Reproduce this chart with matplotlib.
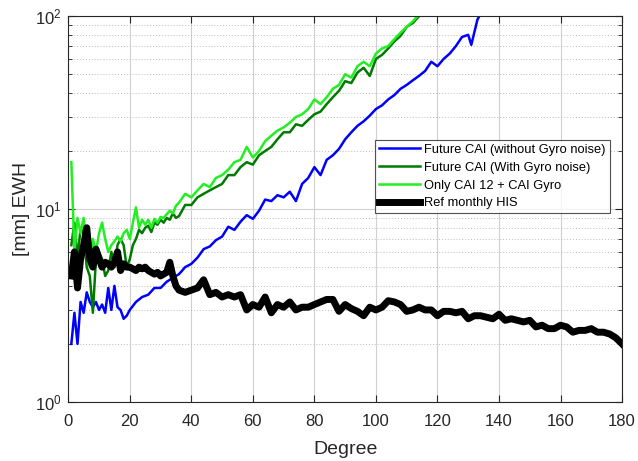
import matplotlib
matplotlib.use('Agg')
import matplotlib.pyplot as plt
from matplotlib.ticker import LogLocator, NullFormatter, MultipleLocator
import numpy as np

plt.rcParams['font.family'] = ['Liberation Sans', 'DejaVu Sans']
plt.rcParams['mathtext.default'] = 'regular'

# Future CAI (without Gyro noise)
blue_deg = list(range(1, 21)) + list(range(22, 130, 2)) + [130, 131, 133, 135]
blue_val = [2.0, 2.9, 2.0, 3.3, 2.9, 3.7, 3.3, 3.1, 3.3, 3.0,
            3.2, 2.9, 3.9, 3.0, 4.0, 3.1, 3.0, 2.7, 2.8, 3.0,
            3.3, 3.5, 3.6, 3.9, 3.9, 4.2, 4.4, 4.6, 5.0, 5.2,
            5.6, 6.2, 6.4, 6.9, 7.2, 8.1, 7.8, 8.6, 9.3, 8.9,
            9.8, 11.2, 11.0, 11.8, 11.5, 12.3, 11.0, 13.5, 14.5, 16.5,
            15.0, 18.0, 19.0, 20.5, 23.0, 25.0, 27.0, 28.5, 30.5, 33.0,
            34.5, 37.0, 39.0, 42.0, 44.0, 46.5, 49.0, 52.0, 58.0, 55.0,
            60.0, 64.0, 70.0, 78.0, 80.0, 71.0, 96.0, 110.0]

# Future CAI (With Gyro noise)
dg_deg = list(range(1, 37)) + list(range(38, 118, 2))
dg_val = [6.5, 8.5, 5.5, 8.0, 7.5, 5.0, 4.5, 2.9, 5.5, 6.0,
          5.5, 4.5, 4.8, 6.0, 5.0, 6.5, 7.0, 6.5, 5.0, 5.5,
          6.5, 7.0, 7.8, 7.5, 8.0, 8.2, 7.6, 8.5, 8.3, 8.8,
          8.5, 9.0, 8.8, 9.5, 9.0, 9.2,
          10.5, 10.5, 11.5, 12.0, 12.5, 13.0, 13.5, 15.0, 15.0, 16.5,
          17.5, 17.0, 19.0, 20.0, 21.0, 23.0, 25.0, 25.0, 27.5, 27.0,
          29.0, 31.0, 32.0, 35.0, 38.0, 41.0, 46.0, 45.0, 51.0, 54.0,
          49.0, 60.0, 63.0, 68.0, 74.0, 79.0, 88.0, 92.0, 100.0, 108.0]

# Only CAI 12 + CAI Gyro
lg_deg = list(range(1, 37)) + list(range(38, 116, 2))
lg_val = [17.5, 6.0, 9.0, 7.5, 9.0, 6.0, 5.0, 7.0, 6.0, 7.5,
          8.5, 7.0, 6.0, 6.5, 6.8, 7.2, 6.8, 7.5, 7.8, 7.0,
          8.5, 10.2, 8.0, 8.8, 8.3, 8.8, 8.0, 8.9, 8.5, 9.1,
          9.0, 9.4, 9.8, 9.5, 10.4, 10.8,
          12.0, 11.5, 12.5, 13.5, 13.0, 14.5, 15.0, 16.0, 17.5, 18.0,
          21.0, 18.5, 20.0, 22.5, 24.0, 25.5, 26.5, 28.0, 30.0, 31.0,
          33.0, 37.0, 35.0, 38.0, 42.0, 44.0, 50.0, 48.0, 55.0, 58.0,
          55.0, 64.0, 68.0, 70.0, 76.0, 82.0, 88.0, 94.0, 102.0]

# Ref monthly HIS
his_deg = list(range(1, 37)) + list(range(38, 178, 2)) + [178, 180]
his_val = [4.5, 6.0, 3.9, 5.5, 6.5, 8.0, 5.5, 5.0, 6.2, 5.5,
           5.0, 5.3, 5.2, 5.0, 5.3, 6.0, 4.8, 5.2, 5.0, 5.0,
           4.9, 4.8, 5.0, 4.9, 5.0, 4.8, 4.7, 4.6, 4.7, 4.5,
           4.6, 4.7, 5.3, 4.5, 4.0, 3.8,
           3.7, 3.8, 3.9, 4.3, 3.6, 3.7, 3.5, 3.6, 3.5, 3.6,
           3.0, 3.2, 3.1, 3.5, 2.9, 3.2, 3.1, 3.3, 3.0, 3.1,
           3.1, 3.2, 3.3, 3.4, 3.4, 2.95, 3.2, 3.05, 2.95, 2.8,
           3.1, 3.0, 3.1, 3.35, 3.3, 3.2, 2.95, 3.0, 3.1, 3.0,
           3.0, 2.8, 2.95, 2.95, 2.9, 2.95, 2.7, 2.8, 2.8, 2.75,
           2.7, 2.85, 2.65, 2.7, 2.65, 2.6, 2.65, 2.45, 2.5, 2.4,
           2.4, 2.5, 2.45, 2.3, 2.35, 2.35, 2.4, 2.3, 2.3, 2.25,
           2.15, 2.0]

fig = plt.figure(figsize=(6.38, 4.61), dpi=100)
ax = fig.add_axes([0.107, 0.128, 0.868, 0.837])

ax.plot(blue_deg, blue_val, color='#0000ff', lw=1.8, label='Future CAI (without Gyro noise)')
ax.plot(dg_deg, dg_val, color='#007a00', lw=1.8, label='Future CAI (With Gyro noise)')
ax.plot(lg_deg, lg_val, color='#22ee22', lw=1.8, label='Only CAI 12 + CAI Gyro')
ax.plot(his_deg, his_val, color='black', lw=5, label='Ref monthly HIS')

ax.set_yscale('log')
ax.set_xlim(0, 180)
ax.set_ylim(1, 100)
ax.xaxis.set_major_locator(MultipleLocator(20))
ax.yaxis.set_major_locator(LogLocator(base=10))
ax.yaxis.set_minor_locator(LogLocator(base=10, subs=np.arange(2, 10)))
ax.yaxis.set_minor_formatter(NullFormatter())

ax.grid(True, which='major', color='#d0d0d0', lw=0.8, ls='-')
ax.grid(True, which='minor', axis='y', color='#bbbbbb', lw=0.7, ls=(0, (1, 2)))
ax.set_axisbelow(True)

ax.tick_params(which='both', direction='in', top=True, right=True,
               labelsize=12, colors='#262626')
ax.tick_params(which='major', length=5)
ax.tick_params(which='minor', length=3)
ax.tick_params(axis='x', pad=9)
ax.tick_params(axis='y', pad=5)
for s in ax.spines.values():
    s.set_color('#262626')
    s.set_linewidth(0.8)

ax.set_xlabel('Degree', fontsize=14, color='#262626', labelpad=8)
ax.set_ylabel('[mm] EWH', fontsize=14, color='#262626', labelpad=3)

leg = ax.legend(loc='upper left', bbox_to_anchor=(0.554, 0.679), fontsize=9.3,
                frameon=True, fancybox=False, edgecolor='#262626',
                handlelength=3.2, handletextpad=0.3, borderpad=0.3,
                labelspacing=0.45, borderaxespad=0)
leg.get_frame().set_linewidth(0.8)

fig.savefig('out.png', dpi=100)
